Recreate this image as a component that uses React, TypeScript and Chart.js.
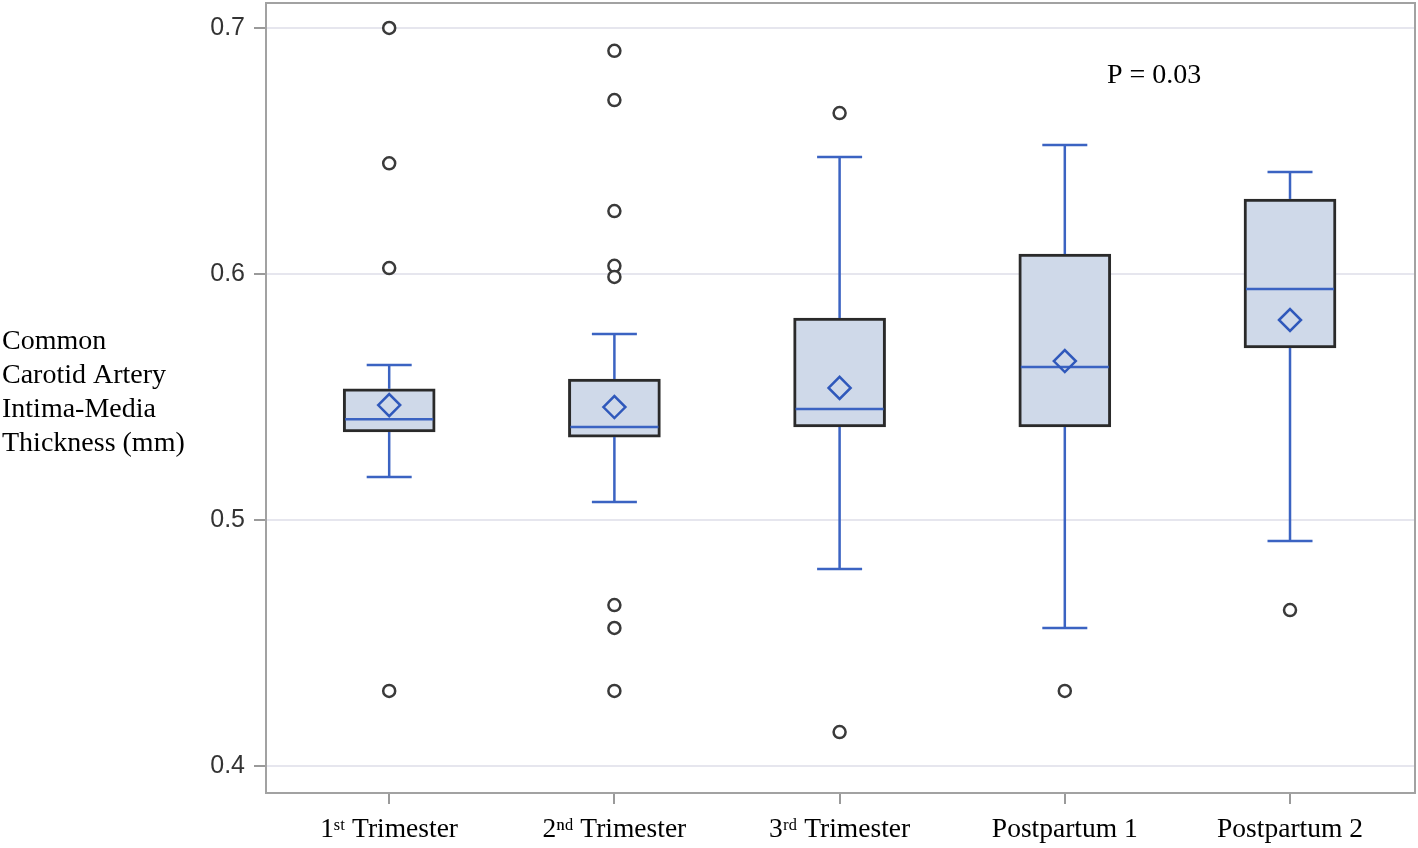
import React, { useEffect, useRef } from 'react';
import { Chart, registerables } from 'chart.js';

Chart.register(...registerables);

// ---- data ----
const categories = ['1ˢᵗ Trimester', '2ⁿᵈ Trimester', '3ʳᵈ Trimester', 'Postpartum 1', 'Postpartum 2'];
const whiskerLow = [0.5175, 0.5073, 0.4801, 0.4561, 0.4915];
const q1 = [0.5358, 0.5337, 0.5378, 0.5378, 0.5699];
const median = [0.541, 0.5378, 0.5451, 0.5622, 0.5939];
const q3 = [0.5533, 0.5573, 0.5821, 0.6081, 0.6305];
const whiskerHigh = [0.563, 0.5756, 0.6476, 0.6524, 0.6415];
const means = [0.5467, 0.5459, 0.5537, 0.5646, 0.5813];
const outliers1 = [0.7, 0.645, 0.6024, 0.4305];
const outliers2 = [0.6907, 0.6707, 0.6256, 0.6033, 0.5988, 0.4654, 0.4561, 0.4305];
const outliers3 = [0.6654, 0.4138];
const outliers4 = [0.4305];
const outliers5 = [0.4634];
const outliers = [outliers1, outliers2, outliers3, outliers4, outliers5];
const yTicks = [0.4, 0.5, 0.6, 0.7];
const yAxisTitle = ['Common', 'Carotid Artery', 'Intima-Media', 'Thickness (mm)'];
const pValueLabel = 'P = 0.03';
const pValuePos = { x: 3.187, y: 0.6776 };

const BLUE = '#3b63c2';
const BOX_FILL = '#cfd9e9';
const BOX_EDGE = '#2a2a2a';
const FRAME = '#a2a2a2';
const SERIF = '"Liberation Serif", "Times New Roman", serif';
const SANS = '"Liberation Sans", Arial, sans-serif';

export default function App() {
  const ref = useRef<HTMLCanvasElement | null>(null);

  useEffect(() => {
    document.body.style.margin = '0';
    const canvas = ref.current;
    if (!canvas) return;

    const whiskerSets: any[] = [];
    categories.forEach((_, i) => {
      whiskerSets.push({
        type: 'scatter',
        data: [{ x: i, y: q3[i] }, { x: i, y: whiskerHigh[i] }],
        showLine: true,
        borderColor: BLUE,
        borderWidth: 2.5,
        pointRadius: 0,
        order: 4,
      });
      whiskerSets.push({
        type: 'scatter',
        data: [{ x: i, y: q1[i] }, { x: i, y: whiskerLow[i] }],
        showLine: true,
        borderColor: BLUE,
        borderWidth: 2.5,
        pointRadius: 0,
        order: 4,
      });
    });

    const framePlugin = {
      id: 'frame',
      beforeDatasetsDraw(chart: any) {
        const { ctx, chartArea: a } = chart;
        ctx.save();
        ctx.strokeStyle = FRAME;
        ctx.lineWidth = 2;
        ctx.strokeRect(a.left, a.top, a.right - a.left, a.bottom - a.top);
        ctx.restore();
      },
    };

    const textPlugin = {
      id: 'texts',
      afterDraw(chart: any) {
        const { ctx, chartArea: a, scales } = chart;
        ctx.save();
        ctx.fillStyle = '#000';
        ctx.font = `28px ${SERIF}`;
        ctx.textAlign = 'left';
        ctx.textBaseline = 'alphabetic';
        const mid = (a.top + a.bottom) / 2;
        yAxisTitle.forEach((line, i) => {
          ctx.fillText(line, 2, mid - 49 + i * 34);
        });
        ctx.fillText(pValueLabel, scales.x.getPixelForValue(pValuePos.x), scales.y.getPixelForValue(pValuePos.y));
        ctx.restore();
      },
    };

    const chart = new Chart(canvas, {
      type: 'scatter',
      data: {
        datasets: [
          {
            type: 'bar',
            data: categories.map((_, i) => ({ x: i, y: [q1[i], q3[i]] })),
            backgroundColor: BOX_FILL,
            borderColor: BOX_EDGE,
            borderWidth: 3,
            borderSkipped: false,
            barThickness: 92,
            order: 10,
          } as any,
          ...whiskerSets,
          {
            type: 'scatter',
            data: categories.flatMap((_, i) => [
              { x: i, y: whiskerLow[i] },
              { x: i, y: whiskerHigh[i] },
            ]),
            pointStyle: 'line',
            pointRadius: 22.5,
            pointBorderColor: BLUE,
            pointBorderWidth: 2.5,
            order: 3,
          },
          {
            type: 'scatter',
            data: categories.map((_, i) => ({ x: i, y: median[i] })),
            pointStyle: 'line',
            pointRadius: 44,
            pointBorderColor: BLUE,
            pointBorderWidth: 2.5,
            order: 3,
          },
          {
            type: 'scatter',
            data: categories.map((_, i) => ({ x: i, y: means[i] })),
            pointStyle: 'rectRot',
            pointRadius: 11,
            pointBorderColor: '#2f58bb',
            pointBackgroundColor: 'rgba(0,0,0,0)',
            pointBorderWidth: 2.5,
            order: 2,
          },
          {
            type: 'scatter',
            data: outliers.flatMap((vals, i) => vals.map((v) => ({ x: i, y: v }))),
            pointStyle: 'circle',
            pointRadius: 6,
            pointBorderColor: '#3a3a3a',
            pointBackgroundColor: '#ffffff',
            pointBorderWidth: 2.5,
            order: 1,
          },
        ],
      },
      options: {
        responsive: false,
        animation: false,
        events: [],
        layout: { autoPadding: false, padding: { top: 3, right: 3, bottom: 0, left: 0 } },
        plugins: {
          legend: { display: false },
          tooltip: { enabled: false },
        },
        scales: {
          x: {
            type: 'linear',
            offset: false,
            min: -0.547,
            max: 4.555,
            border: { display: false },
            grid: {
              offset: false,
              drawOnChartArea: false,
              drawTicks: true,
              tickLength: 11,
              tickColor: '#9a9a9a',
              lineWidth: 2,
            },
            afterBuildTicks: (s: any) => {
              s.ticks = categories.map((_, i) => ({ value: i }));
            },
            afterFit: (s: any) => {
              s.height = 55;
              s.paddingLeft = 0;
              s.paddingRight = 0;
            },
            ticks: {
              autoSkip: false,
              maxRotation: 0,
              padding: 9,
              color: '#000',
              font: { family: SERIF, size: 27.5 },
              callback: (v: any) => categories[v] ?? '',
            },
          },
          y: {
            type: 'linear',
            min: 0.38902,
            max: 0.71016,
            border: { display: false },
            grid: {
              color: '#e6e6ee',
              lineWidth: 2,
              tickLength: 12,
              tickColor: '#9a9a9a',
            },
            afterBuildTicks: (s: any) => {
              s.ticks = yTicks.map((v) => ({ value: v }));
            },
            afterFit: (s: any) => {
              s.width = 266;
              s.paddingTop = 0;
              s.paddingBottom = 0;
            },
            ticks: {
              padding: 9,
              color: '#333',
              font: { family: SANS, size: 25 },
              callback: (v: any) => Number(v).toFixed(1),
            },
          },
        },
      },
      plugins: [framePlugin, textPlugin],
    } as any);

    return () => chart.destroy();
  }, []);

  return (
    <div style={{ position: 'fixed', left: 0, top: 0, width: 1418, height: 848 }}>
      <canvas ref={ref} width={1418} height={848} style={{ display: 'block' }} />
    </div>
  );
}
